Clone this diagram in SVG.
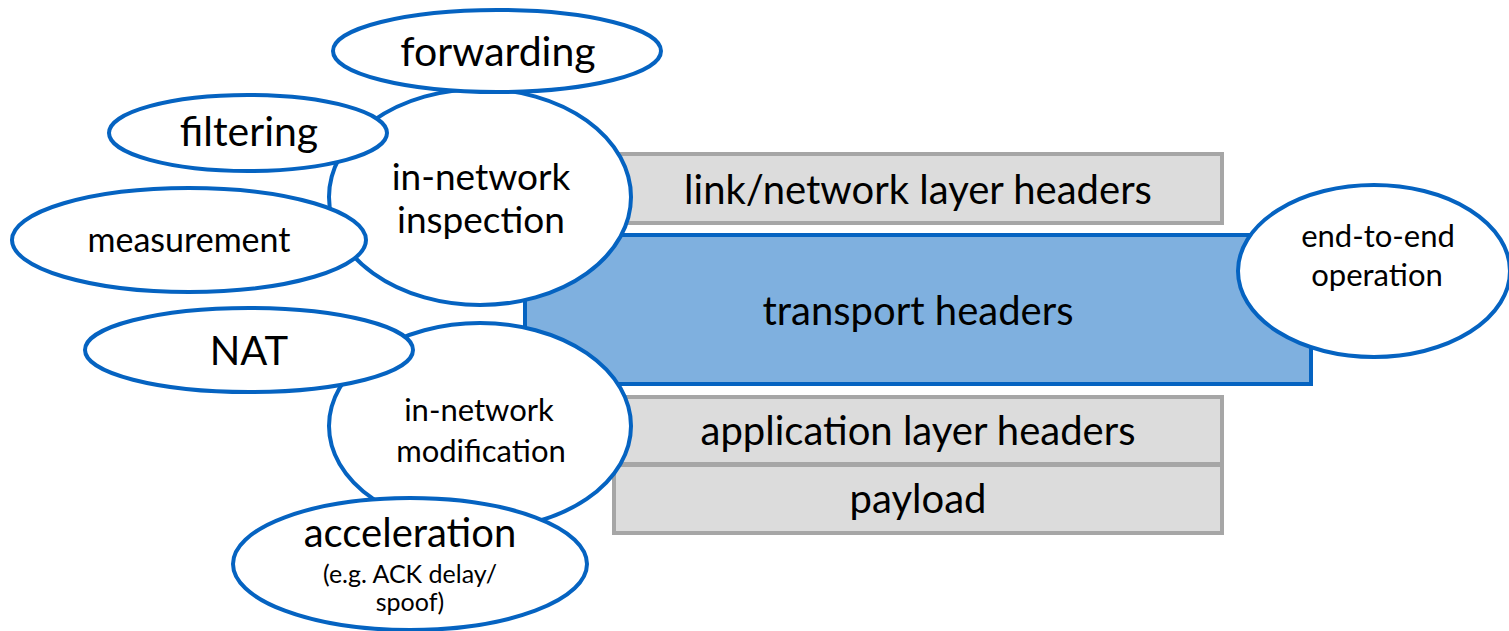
<svg xmlns="http://www.w3.org/2000/svg" width="1509" height="631" viewBox="0 0 1509 631">
<style>
.gray{fill:#dcdcdc;stroke:#a6a6a6;stroke-width:4}
.blue{fill:#7fb0df;stroke:#0563c1;stroke-width:4}
.ell{fill:#ffffff;stroke:#0563c1;stroke-width:4}
text{font-family:Lato,"Open Sans",sans-serif;fill:#000;text-anchor:middle}
</style>
<rect width="1509" height="631" fill="#ffffff"/>
<g id="link"><rect class="gray" x="614" y="154" width="608" height="69"/><text x="918" y="204" font-size="40">link/network layer headers</text></g>
<g id="app"><rect class="gray" x="614" y="397" width="608" height="67"/><text x="918" y="445" font-size="40">application layer headers</text></g>
<g id="payload"><rect class="gray" x="614" y="465" width="608" height="68"/><text x="918" y="513" font-size="40">payload</text></g>
<g id="transport"><rect class="blue" x="525" y="235" width="786" height="149"/><text x="918" y="325" font-size="40">transport headers</text></g>
<g id="e2e"><ellipse class="ell" cx="1374" cy="271" rx="136" ry="86"/><text x="1378" y="247" font-size="31">end-to-end</text><text x="1377" y="286" font-size="31">operation</text></g>
<g id="inspection"><ellipse class="ell" cx="480" cy="197" rx="151" ry="108"/><text x="481" y="190" font-size="37">in-network</text><text x="481" y="233" font-size="37">inspection</text></g>
<g id="forwarding"><ellipse class="ell" cx="497" cy="51" rx="164" ry="41"/><text x="498" y="66" font-size="41">forwarding</text></g>
<g id="filtering"><ellipse class="ell" cx="248" cy="133" rx="139" ry="38"/><text x="249" y="146" font-size="41">filtering</text></g>
<g id="measurement"><ellipse class="ell" cx="189" cy="240" rx="177" ry="52"/><text x="189" y="252" font-size="34">measurement</text></g>
<g id="modification"><ellipse class="ell" cx="480" cy="426" rx="151" ry="103"/><text x="479" y="421" font-size="31">in-network</text><text x="481" y="462" font-size="31">modification</text></g>
<g id="nat"><ellipse class="ell" cx="249" cy="350" rx="164" ry="42"/><text x="249" y="365" font-size="40">NAT</text></g>
<g id="acceleration"><ellipse class="ell" cx="410" cy="564" rx="177" ry="66"/><text x="410" y="547" font-size="40">acceleration</text><text x="410" y="583" font-size="25">(e.g. ACK delay/</text><text x="410" y="611" font-size="25">spoof)</text></g>
<g id="connectors"></g>
</svg>
